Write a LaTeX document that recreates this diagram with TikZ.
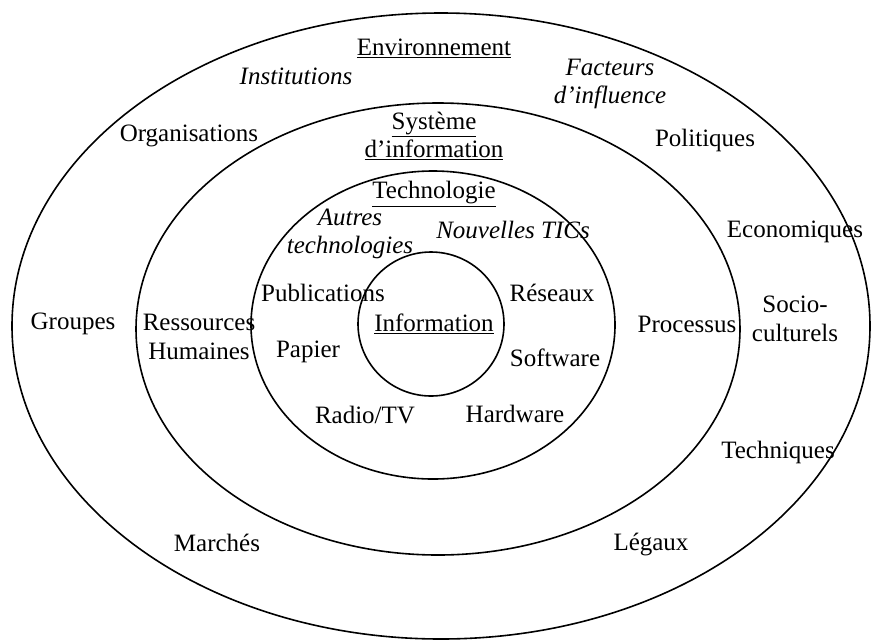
\documentclass[tikz,border=0pt]{standalone}
\usepackage{fontspec}
\setmainfont{Liberation Serif}
\tikzset{
    lab/.style={
        font=\fontsize{25}{28.5}\selectfont, align=center, inner sep=1pt
    }
}
\begin{document}
\begin{tikzpicture}[x=1pt,y=-1pt, line cap=round, line join=round]

\tikzset{
  ring/.style={draw=black, line width=1.6pt},
  ital/.style={lab, font=\fontsize{25}{28.5}\selectfont\itshape},
}

\useasboundingbox (0,0) rectangle (873,641);

% rings
\draw[ring] (441,326) ellipse [x radius=429, y radius=313];
\draw[ring] (438,329) ellipse [x radius=302, y radius=226];
\draw[ring] (433,325) ellipse [x radius=182, y radius=154];
\draw[ring] (431,324) ellipse [x radius=73, y radius=72];

% environnement
\node[lab] (env) at (434,48) {\underline{Environnement}};
\node[ital] (inst) at (296,76) {Institutions};
\node[ital] (fact) at (610,84) {Facteurs\\d’influence};
\node[lab] (orga) at (189,136) {Organisations};
\node[lab] (poli) at (705,140) {Politiques};
\node[lab] (econ) at (795,232) {Economiques};
\node[lab] (soc) at (795,319) {Socio-\\culturels};
\node[lab] (grp) at (73,324) {Groupes};
\node[lab] (tech) at (778,452) {Techniques};
\node[lab] (march) at (217,543) {Marchés};
\node[lab] (leg) at (651,544) {Légaux};

% systeme d'information
\node[lab] (si) at (434,136) {\underline{Système}\\\underline{d’information}};
\node[lab] (rh) at (199,337) {Ressources\\Humaines};
\node[lab] (proc) at (687,324) {Processus};

% technologie
\node[lab] (techno) at (434,194) {\underline{Technologie}};
\node[ital] (autres) at (350,234) {Autres\\technologies};
\node[ital] (tics) at (513,230) {Nouvelles TICs};
\node[lab] (pub) at (323,293) {Publications};
\node[lab] (res) at (552,293) {Réseaux};
\node[lab] (pap) at (308,352) {Papier};
\node[lab] (soft) at (555,358) {Software};
\node[lab] (radio) at (365,415) {Radio/TV};
\node[lab] (hard) at (515,414) {Hardware};

% information
\node[lab] (info) at (434,324) {\underline{Information}};

\end{tikzpicture}
\end{document}
